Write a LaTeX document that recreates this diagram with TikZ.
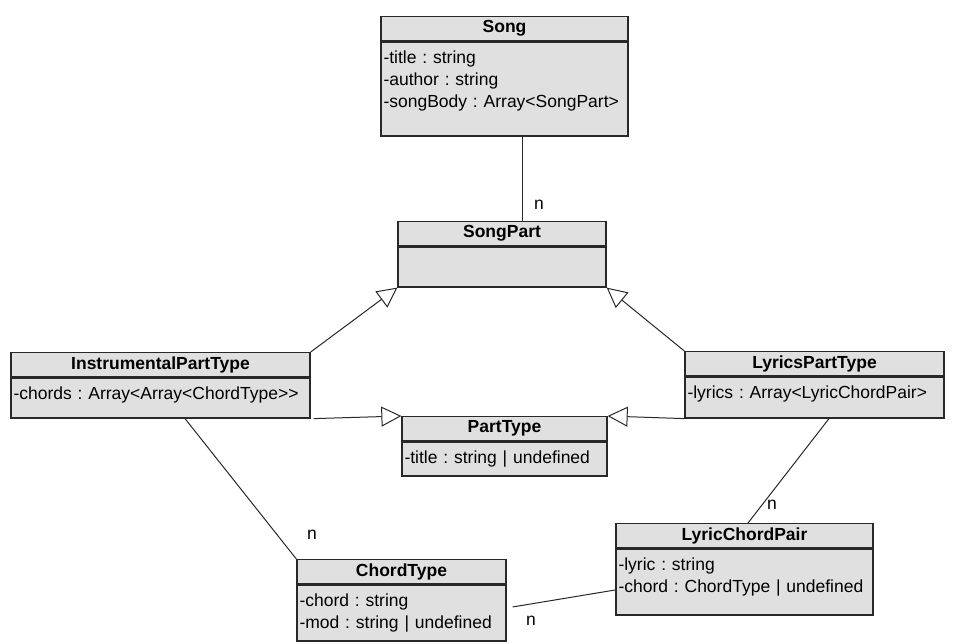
\documentclass[tikz,border=0pt]{standalone}
\usepackage{fontspec}
\setmainfont{Liberation Sans}
\usetikzlibrary{
    positioning,
    arrows.meta
}
\definecolor{umlfill}{RGB}{224,224,224}
\definecolor{umlline}{RGB}{40,40,40}

\begin{document}
\frenchspacing
\fontsize{17.5}{22}\selectfont
\begin{tikzpicture}[x=1pt,y=-1pt,
		classhead/.style={draw=umlline,fill=umlfill,line width=1.3pt,anchor=north,minimum height=24pt,inner sep=1pt,font=\bfseries},
		classbody/.style={draw=umlline,fill=umlfill,line width=1.3pt,anchor=north,align=left,inner xsep=2.5pt,inner ysep=3pt,text height=19pt},
		assoc/.style={draw=umlline,line width=1pt},
		inherit/.style={draw=umlline,line width=1pt,-{Triangle[open,length=20pt,width=20pt]}},
		mult/.style={inner sep=0pt}]
		\useasboundingbox (0,0) rectangle (957,643);
		% classes
		\node[classhead,minimum width=247pt] (song) at (504.5,16) {Song};
		\node[classbody,text width=242pt,text depth=69pt] (songbody) at (song.south) {-title : string\\-author : string\\-songBody : Array<SongPart>};
		\node[classhead,minimum width=208pt] (songpart) at (502,221) {SongPart};
		\node[classbody,text width=203pt,text depth=15pt] (songpartbody) at (songpart.south) {};
		\node[classhead,minimum width=299pt] (ipt) at (160.5,352) {InstrumentalPartType};
		\node[classbody,text width=294pt,text depth=15pt] (iptbody) at (ipt.south) {-chords : Array<Array<ChordType>{}>};
		\node[classhead,minimum width=205pt] (parttype) at (504.5,416) {PartType};
		\node[classbody,text width=200pt,text depth=9pt] (parttypebody) at (parttype.south) {-title : string | undefined};
		\node[classhead,minimum width=259pt] (lpt) at (814.5,351) {LyricsPartType};
		\node[classbody,text width=254pt,text depth=16pt] (lptbody) at (lpt.south) {-lyrics : Array<LyricChordPair>};
		\node[classhead,minimum width=209pt] (chordtype) at (401.5,559) {ChordType};
		\node[classbody,text width=204pt,text depth=31pt] (chordbody) at (chordtype.south) {-chord : string\\-mod : string | undefined};
		\node[classhead,minimum width=257pt] (lcp) at (744.5,523) {LyricChordPair};
		\node[classbody,text width=252pt,text depth=41pt] (lcpbody) at (lcp.south) {-lyric : string\\-chord : ChordType | undefined};
		% generalizations
		\draw[inherit] (ipt.north east) -- (songpartbody.south west);
		\draw[inherit] (lpt.north west) -- (songpartbody.south east);
		\draw[inherit] ([xshift=3pt]iptbody.south east) -- (parttype.north west);
		\draw[inherit] (lptbody.south west) -- (parttype.north east);
		% associations
		\draw[assoc] ([xshift=17.5pt]songbody.south) -- ([xshift=17.5pt]songbody.south |- songpart.north);
		\draw[assoc] ([xshift=24.5pt]iptbody.south) -- (chordtype.north west);
		\draw[assoc] ([xshift=14.5pt]lptbody.south) -- ([xshift=3.5pt]lcp.north);
		\draw[assoc] ([xshift=6pt,yshift=6pt]chordbody.east) -- ([yshift=-8pt]lcpbody.west);
		\node[mult] (nsong) at (539,205) {n};
		\node[mult] (nchord) at (312,535) {n};
		\node[mult] (npair) at (772,505) {n};
		\node[mult] (nlyricchord) at (531,621) {n};
	\end{tikzpicture}
\end{document}
